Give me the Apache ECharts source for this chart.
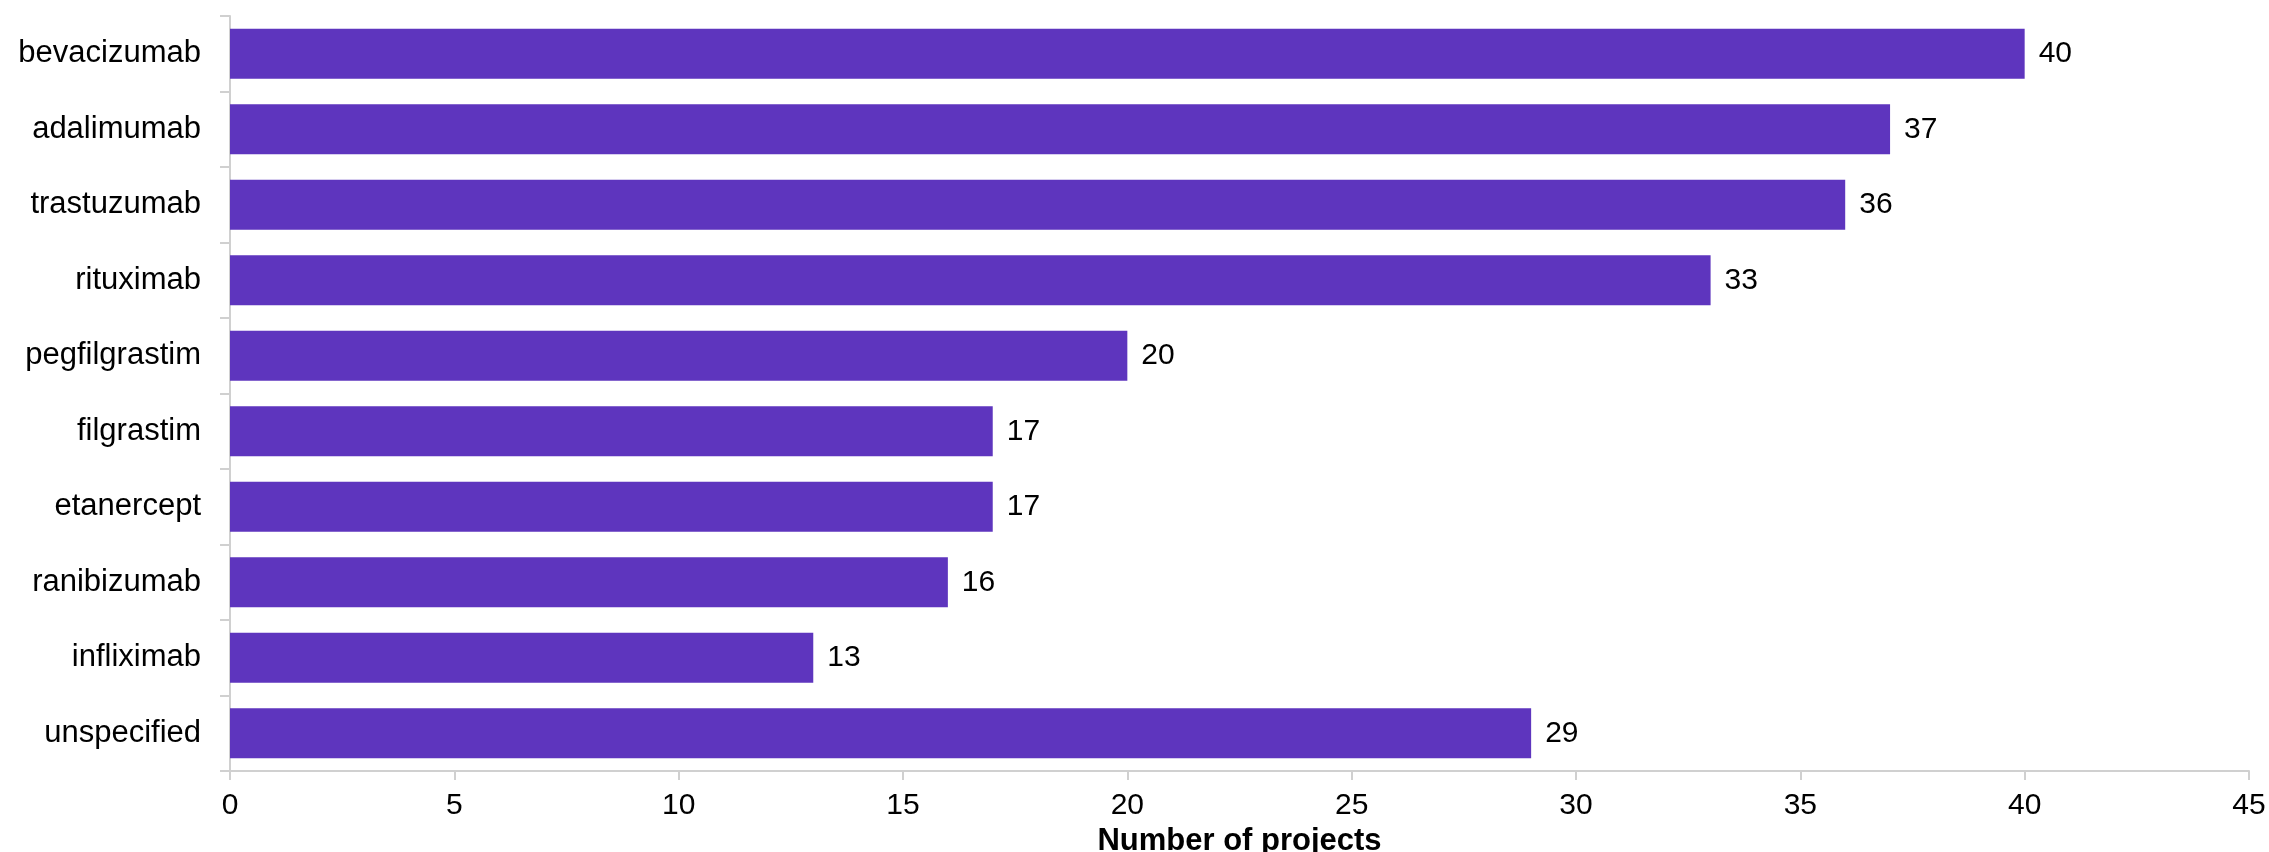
<!DOCTYPE html>
<html>
<head>
<meta charset="utf-8">
<script src="https://cdn.jsdelivr.net/npm/echarts@6/dist/echarts.min.js"></script>
<style>
html,body{margin:0;padding:0;background:#fff;}
#chart{width:2269px;height:852px;}
</style>
</head>
<body>
<div id="chart"></div>
<script>
const categories = ["bevacizumab","adalimumab","trastuzumab","rituximab","pegfilgrastim","filgrastim","etanercept","ranibizumab","infliximab","unspecified"];
const projects = [40,37,36,33,20,17,17,16,13,29];
const xTicks = [0,5,10,15,20,25,30,35,40,45];

const chart = echarts.init(document.getElementById('chart'), null, {renderer:'canvas'});
const font = '"Liberation Sans", Arial, sans-serif';
chart.setOption({
  animation:false,
  backgroundColor:'#ffffff',
  textStyle:{fontFamily:font},
  grid:{left:230,right:20,top:16,bottom:81,containLabel:false,outerBoundsMode:'none'},
  xAxis:{
    type:'value',min:xTicks[0],max:xTicks[xTicks.length-1],interval:5,
    name:'Number of projects',nameLocation:'middle',nameGap:50,
    nameTextStyle:{fontFamily:font,fontSize:31,fontWeight:'bold',color:'#000'},
    axisLine:{show:true,lineStyle:{color:'#d0d0d0',width:2}},
    axisTick:{show:true,length:9,lineStyle:{color:'#d0d0d0',width:2}},
    axisLabel:{fontFamily:font,fontSize:30,color:'#000',margin:20},
    splitLine:{show:false}
  },
  yAxis:{
    type:'category',data:categories,inverse:true,
    axisLine:{show:true,lineStyle:{color:'#d0d0d0',width:2}},
    axisTick:{show:true,length:10,alignWithLabel:false,lineStyle:{color:'#d0d0d0',width:2}},
    axisLabel:{fontFamily:font,fontSize:31,color:'#000',margin:29}
  },
  series:[{
    type:'bar',data:projects,barCategoryGap:'34%',
    itemStyle:{color:'#5e35be'},
    label:{show:true,position:'right',distance:14,fontFamily:font,fontSize:30,color:'#000'}
  }]
});
</script>
</body>
</html>
